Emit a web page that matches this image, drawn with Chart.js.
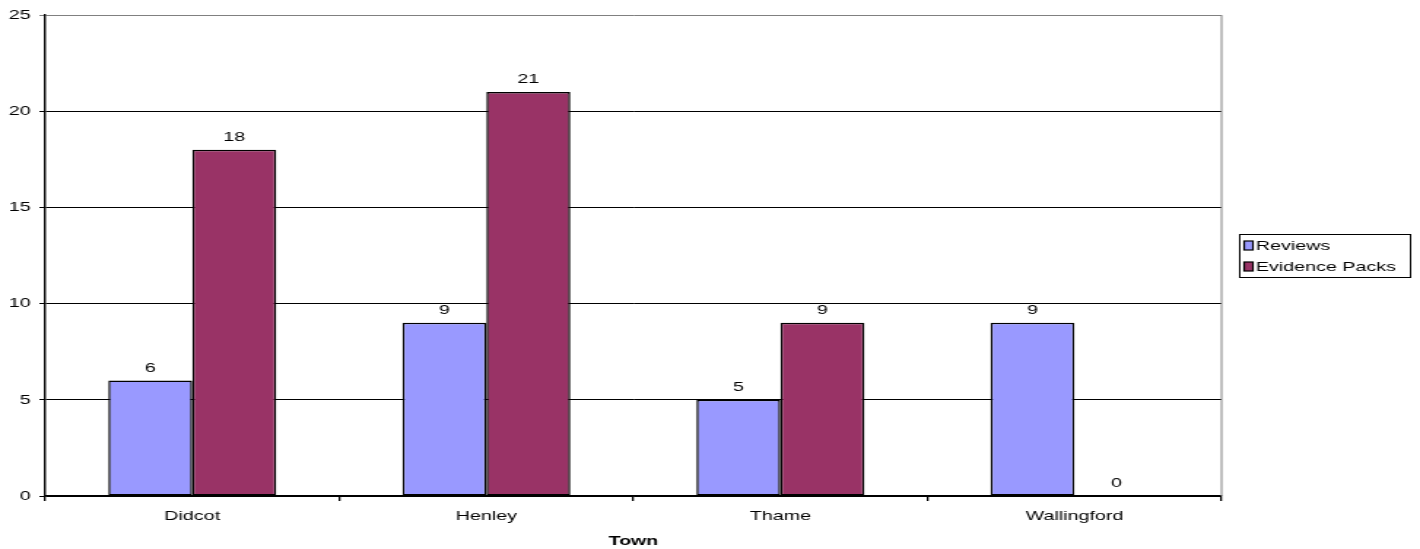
<!DOCTYPE html>
<html>
<head>
<meta charset="utf-8">
<script src="https://cdn.jsdelivr.net/npm/chart.js@4.4.0/dist/chart.umd.min.js"></script>
<style>
  html, body { margin: 0; padding: 0; background: #fff; overflow: hidden; }
  /* the original picture is stretched horizontally, so draw narrow and stretch */
  #wrap { width: 973px; height: 549px; transform: scaleX(1.4594); transform-origin: 0 0; }
</style>
</head>
<body>
<div id="wrap"><canvas id="townChart" width="973" height="549"></canvas></div>
<script>
const towns = ['Didcot', 'Henley', 'Thame', 'Wallingford'];
const reviews = [6, 9, 5, 9];
const evidencePacks = [18, 21, 9, 0];
const yTicks = [0, 5, 10, 15, 20, 25];

const FONT = '"Liberation Sans", Arial, sans-serif';
const FS = 13.5;

// value labels above each bar
const barLabels = {
    id: 'barLabels',
    afterDatasetsDraw(chart) {
        const ctx = chart.ctx;
        ctx.save();
        ctx.font = FS + 'px ' + FONT;
        ctx.fillStyle = '#000';
        ctx.textAlign = 'center';
        ctx.textBaseline = 'alphabetic';
        chart.data.datasets.forEach((ds, i) => {
            chart.getDatasetMeta(i).data.forEach((bar, j) => {
                ctx.fillText(ds.data[j], bar.x, bar.y - 9);
            });
        });
        ctx.restore();
    }
};

// gray plot border on the right + boxed legend
const frameAndLegend = {
    id: 'frameAndLegend',
    afterDraw(chart) {
        const ctx = chart.ctx;
        const a = chart.chartArea;
        ctx.save();
        ctx.strokeStyle = '#808080';
        ctx.lineWidth = 1;
        ctx.beginPath();
        ctx.moveTo(a.right, a.top);
        ctx.lineTo(a.right, a.bottom);
        ctx.stroke();

        const boxX = a.right + 12.5, boxW = 117, boxH = 43;
        const boxY = Math.round((a.top + a.bottom) / 2 - boxH / 2) + 0.5;
        ctx.strokeStyle = '#000';
        ctx.strokeRect(boxX, boxY, boxW, boxH);

        ctx.font = FS + 'px ' + FONT;
        ctx.textBaseline = 'middle';
        chart.data.datasets.forEach((ds, i) => {
            const cy = boxY + 11 + i * 21;
            ctx.fillStyle = ds.backgroundColor;
            ctx.fillRect(boxX + 3, cy - 4.5, 6, 9);
            ctx.strokeStyle = '#000';
            ctx.lineWidth = 1.2;
            ctx.strokeRect(boxX + 3, cy - 4.5, 6, 9);
            ctx.fillStyle = '#000';
            ctx.fillText(ds.label, boxX + 11, cy + 1);
        });
        ctx.restore();
    }
};

const ctx = document.getElementById('townChart').getContext('2d');
new Chart(ctx, {
    type: 'bar',
    data: {
        labels: towns,
        datasets: [{
            label: 'Reviews',
            data: reviews,
            backgroundColor: '#9999FF',
            borderColor: '#000',
            borderWidth: 1.5,
            borderSkipped: false
        }, {
            label: 'Evidence Packs',
            data: evidencePacks,
            backgroundColor: '#993366',
            borderColor: '#000',
            borderWidth: 1.5,
            borderSkipped: false
        }]
    },
    options: {
        responsive: false,
        animation: false,
        layout: { padding: { top: 15, right: 136, left: 0, bottom: 0 } },
        datasets: { bar: { categoryPercentage: 0.571, barPercentage: 1 } },
        plugins: { legend: { display: false }, tooltip: { enabled: false } },
        scales: {
            x: {
                grid: { offset: true, drawOnChartArea: false, tickLength: 5, color: '#000', lineWidth: 1.3 },
                border: { color: '#000', width: 1.3 },
                ticks: { color: '#000', font: { family: FONT, size: FS }, padding: 7 },
                title: { display: true, text: 'Town', color: '#000', font: { family: FONT, size: FS, weight: 'bold' }, padding: 0 },
                afterFit(scale) { scale.height = 53; }
            },
            y: {
                min: 0,
                max: 25,
                afterBuildTicks(scale) { scale.ticks = yTicks.map(v => ({ value: v })); },
                grid: {
                    color: c => (c.tick && c.tick.value === 25 ? '#808080' : '#000'),
                    tickLength: 4
                },
                border: { color: '#000', width: 1.4 },
                ticks: { color: '#000', font: { family: FONT, size: FS }, padding: 6 },
                afterFit(scale) { scale.width = 31; }
            }
        }
    },
    plugins: [barLabels, frameAndLegend]
});
</script>
</body>
</html>
